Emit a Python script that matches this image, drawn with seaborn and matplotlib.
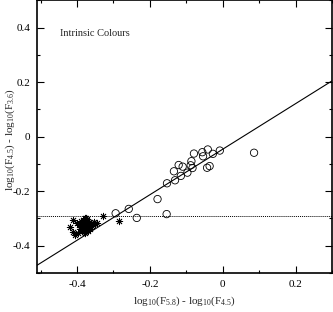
import numpy as np
import pandas as pd
import matplotlib
matplotlib.use("Agg")
import matplotlib.pyplot as plt
from matplotlib.ticker import MultipleLocator
import seaborn as sns

# circles (open symbols)
circ_x = [-0.294, -0.258, -0.236, -0.179, -0.154, -0.153, -0.134, -0.131, -0.121, -0.115,
          -0.110, -0.097, -0.088, -0.086, -0.083, -0.079, -0.056, -0.054, -0.041, -0.027,
          -0.043, -0.036, -0.008, 0.086]
circ_y = [-0.281, -0.265, -0.298, -0.229, -0.284, -0.171, -0.127, -0.160, -0.104, -0.144,
          -0.110, -0.132, -0.105, -0.090, -0.115, -0.062, -0.057, -0.072, -0.047, -0.063,
          -0.114, -0.108, -0.051, -0.059]

# asterisks
star_x = [-0.412, -0.419, -0.410, -0.405, -0.400, -0.395, -0.392, -0.390, -0.388, -0.386,
          -0.384, -0.382, -0.380, -0.379, -0.378, -0.377, -0.376, -0.375, -0.374, -0.373,
          -0.372, -0.371, -0.370, -0.369, -0.368, -0.366, -0.364, -0.362, -0.360, -0.357,
          -0.354, -0.350, -0.346, -0.330, -0.284, -0.398, -0.385, -0.381, -0.376, -0.371,
          -0.365, -0.378, -0.388, -0.372]
star_y = [-0.304, -0.332, -0.350, -0.360, -0.318, -0.325, -0.340, -0.310, -0.330, -0.345,
          -0.305, -0.320, -0.335, -0.300, -0.315, -0.328, -0.342, -0.310, -0.322, -0.336,
          -0.303, -0.318, -0.330, -0.345, -0.312, -0.325, -0.338, -0.315, -0.328, -0.320,
          -0.312, -0.322, -0.318, -0.292, -0.308, -0.355, -0.315, -0.348, -0.298, -0.340,
          -0.333, -0.352, -0.322, -0.326]

fit_slope = 0.835
fit_intercept = -0.046
ref_level = -0.292

circles = pd.DataFrame({"x": circ_x, "y": circ_y})
stars = pd.DataFrame({"x": star_x, "y": star_y})

sns.set_style("ticks")
plt.rcParams["font.family"] = ["Liberation Serif", "DejaVu Serif"]
plt.rcParams["mathtext.fontset"] = "custom"
plt.rcParams["mathtext.rm"] = "Liberation Serif"
plt.rcParams["mathtext.it"] = "Liberation Serif"

fig = plt.figure(figsize=(3.33, 3.12), dpi=100)
ax = fig.add_axes([0.111, 0.125, 0.886, 0.874])

ax.axline((0, fit_intercept), slope=fit_slope, color="black", lw=0.8)
ax.axhline(ref_level, color="black", lw=0.7, ls=(0, (1, 1)))

sns.scatterplot(data=circles, x="x", y="y", ax=ax, marker="o", s=28,
                facecolor="none", edgecolor="black", linewidth=0.6, zorder=3)
sns.scatterplot(data=stars, x="x", y="y", ax=ax, marker=(8, 2, 0), s=22,
                color="black", linewidth=0.6, zorder=3)

ax.set_xlim(-0.51, 0.30)
ax.set_ylim(-0.5, 0.5)
ax.xaxis.set_major_locator(MultipleLocator(0.2))
ax.xaxis.set_minor_locator(MultipleLocator(0.1))
ax.yaxis.set_major_locator(MultipleLocator(0.2))
ax.yaxis.set_minor_locator(MultipleLocator(0.1))

def fmt(v, pos):
    if abs(v) < 1e-9:
        return "0"
    return "%.1f" % v
ax.xaxis.set_major_formatter(plt.FuncFormatter(fmt))
ax.yaxis.set_major_formatter(plt.FuncFormatter(fmt))

ax.tick_params(which="both", direction="in", top=True, right=True, labelsize=8, colors="black")
ax.tick_params(which="major", length=5, width=0.8, pad=5)
ax.tick_params(which="minor", length=2.5, width=0.8)
for s in ax.spines.values():
    s.set_linewidth(1.2)
    s.set_color("black")

ax.text(-0.446, 0.38, "Intrinsic Colours", fontsize=7.5, va="center", ha="left")

ax.set_xlabel("log$_{10}$(F$_{5.8}$) - log$_{10}$(F$_{4.5}$)", fontsize=8, labelpad=4)
ax.set_ylabel("log$_{10}$(F$_{4.5}$) - log$_{10}$(F$_{3.6}$)", fontsize=8)
ax.yaxis.set_label_coords(-0.068, 0.49)

fig.savefig("out.png", dpi=100)
